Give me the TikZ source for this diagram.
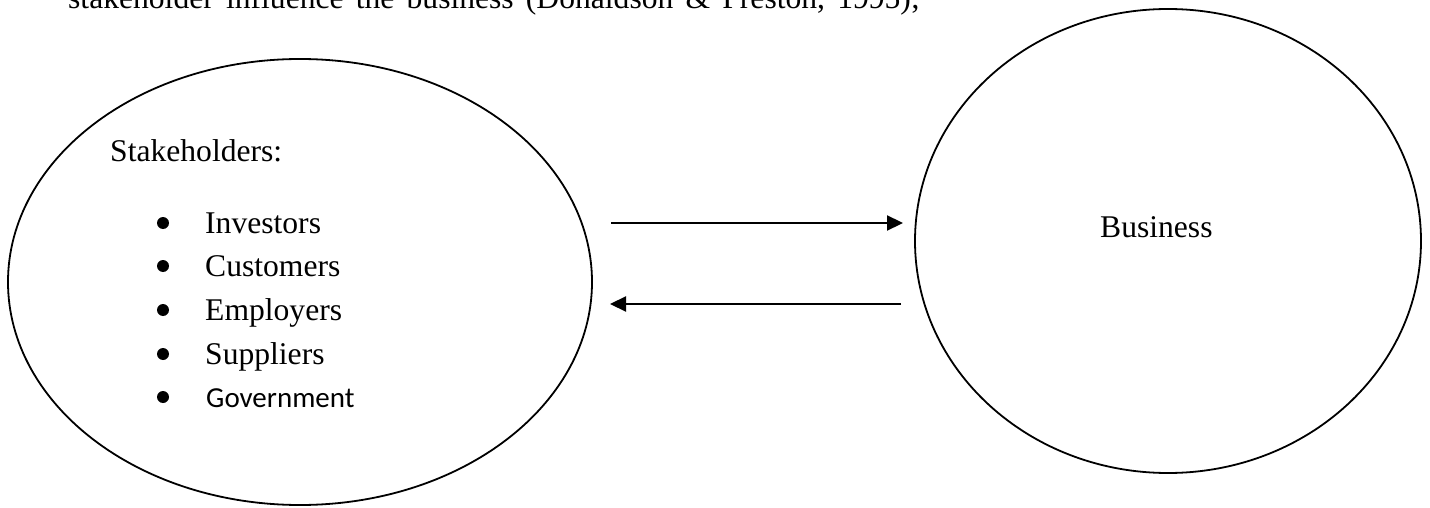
\documentclass[tikz,border=0pt]{standalone}
\usepackage{fontspec}
\setmainfont{Liberation Serif}
\newfontfamily\calibrifont{Carlito}
\usetikzlibrary{arrows.meta,shapes.geometric}
\begin{document}
\begin{tikzpicture}[x=1pt,y=-1pt,
  outline/.style={draw=black,line width=1.8pt},
  flow/.style={line width=2.2pt,-{Triangle[length=16pt,width=15pt]}},
  label/.style={anchor=base west,inner sep=0pt,font=\fontsize{31.6}{36}\selectfont},
  govlabel/.style={anchor=base west,inner sep=0pt,font=\calibrifont\fontsize{29}{34}\selectfont},
  dot/.style={circle,fill=black,inner sep=0pt,minimum size=12pt}]
\useasboundingbox (0,0) rectangle (1430,508);
\clip (0,0) rectangle (1430,508);

% running text above the figure (justified line, wider spaces)
\node[label] (caption) at (68,9) {\spaceskip=12.2pt stakeholder influence the business (Donaldson \& Preston, 1995);};

% the two parties
\node[ellipse,outline,minimum width=584pt,minimum height=446pt,inner sep=0pt] (stake) at (300,282) {};
\node[ellipse,outline,minimum width=506pt,minimum height=464pt,inner sep=0pt] (biz) at (1168,241) {};

% stakeholder list
\node[label] (title) at (110,162) {Stakeholders:};
\node[dot] (b1) at (163,223) {};
\node[label] (investors) at (205,233) {Investors};
\node[dot] (b2) at (163,266) {};
\node[label] (customers) at (205,276) {Customers};
\node[dot] (b3) at (163,310) {};
\node[label] (employers) at (205,320) {Employers};
\node[dot] (b4) at (163,354) {};
\node[label] (suppliers) at (205,364) {Suppliers};
\node[dot] (b5) at (163,397) {};
\node[govlabel] (government) at (206,407) {Government};

\node[label] (business) at (1100,237) {Business};

% mutual influence
\coordinate (a1s) at (611,223);
\coordinate (a1e) at (903,223);
\coordinate (a2s) at (901,304);
\coordinate (a2e) at (610,304);
\draw[flow] (a1s) -- (a1e);
\draw[flow] (a2s) -- (a2e);
\end{tikzpicture}
\end{document}
